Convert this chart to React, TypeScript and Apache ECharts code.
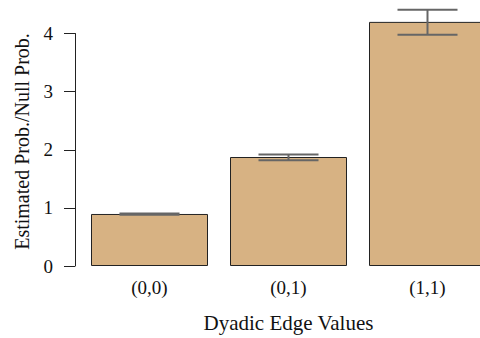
import React, { useEffect, useRef } from "react";
import * as echarts from "echarts";

const categories = ["(0,0)", "(0,1)", "(1,1)"];
const estimates = [0.895, 1.875, 4.2];
const lowerBounds = [0.88, 1.82, 3.98];
const upperBounds = [0.905, 1.92, 4.41];
const yTicks = [0, 1, 2, 3, 4];
const xTitle = "Dyadic Edge Values";
const yTitle = "Estimated Prob./Null Prob.";

const FONT = "'Liberation Serif', 'Times New Roman', serif";

export default function App() {
  const ref = useRef<HTMLDivElement>(null);
  useEffect(() => {
    if (!ref.current) return;
    const chart = echarts.init(ref.current, undefined, { renderer: "svg" });
    const errData = categories.map((_, i) => [i, lowerBounds[i], upperBounds[i]]);
    chart.setOption({
      animation: false,
      backgroundColor: "#ffffff",
      grid: { left: 80, right: 3, top: 33.5, bottom: 69.5, containLabel: false },
      graphic: [
        {
          type: "text",
          x: 22,
          y: 141.5,
          rotation: Math.PI / 2,
          style: {
            text: yTitle,
            font: `20px ${FONT}`,
            fill: "#111",
            textAlign: "center",
            textVerticalAlign: "middle",
          },
        },
      ],
      xAxis: {
        type: "category",
        data: categories,
        axisLine: { show: false },
        axisTick: { show: false },
        axisLabel: { margin: 12, fontFamily: FONT, fontSize: 19, color: "#111" },
        name: xTitle,
        nameLocation: "middle",
        nameGap: 46,
        nameTextStyle: { fontFamily: FONT, fontSize: 21, color: "#111" },
      },
      yAxis: {
        type: "value",
        min: yTicks[0],
        max: yTicks[yTicks.length - 1],
        interval: 1,
        offset: 5,
        splitLine: { show: false },
        axisLine: { show: true, lineStyle: { color: "#222", width: 1 } },
        axisTick: { show: true, length: 11, lineStyle: { color: "#222", width: 1 } },
        axisLabel: { margin: 22, fontFamily: FONT, fontSize: 19, color: "#111" },
      },
      series: [
        {
          type: "bar",
          data: estimates,
          barWidth: 117,
          clip: false,
          z: 2,
          itemStyle: { color: "#D7B283", borderColor: "#222", borderWidth: 1 },
        },
        {
          type: "custom",
          clip: false,
          z: 10,
          data: errData,
          encode: { x: 0, y: [1, 2] },
          renderItem: (params: any, api: any) => {
            const x = api.value(0);
            const lo = api.coord([x, api.value(1)]);
            const hi = api.coord([x, api.value(2)]);
            const hw = 30;
            const style = { stroke: "#666", lineWidth: 2 };
            return {
              type: "group",
              children: [
                { type: "line", shape: { x1: lo[0], y1: lo[1], x2: hi[0], y2: hi[1] }, style },
                { type: "line", shape: { x1: hi[0] - hw, y1: hi[1], x2: hi[0] + hw, y2: hi[1] }, style },
                { type: "line", shape: { x1: lo[0] - hw, y1: lo[1], x2: lo[0] + hw, y2: lo[1] }, style },
              ],
            };
          },
        },
      ],
    });
    return () => chart.dispose();
  }, []);
  return (
    <div style={{ position: "absolute", left: 0, top: 0, width: 480, height: 338, overflow: "hidden" }}>
      <div ref={ref} style={{ width: 500, height: 338 }} />
    </div>
  );
}
